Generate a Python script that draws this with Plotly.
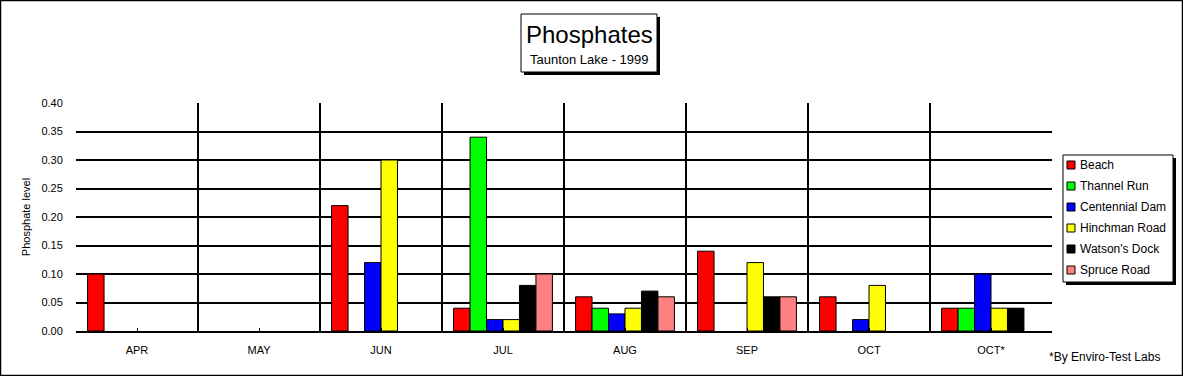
import plotly.graph_objects as go

months = ["APR", "MAY", "JUN", "JUL", "AUG", "SEP", "OCT", "OCT*"]
series_names = ["Beach", "Thannel Run", "Centennial Dam", "Hinchman Road", "Watson's Dock", "Spruce Road"]
colors = ["#ff0000", "#00ff00", "#0000ff", "#ffff00", "#000000", "#ff8080"]

beach = [0.10, None, 0.22, 0.04, 0.06, 0.14, 0.06, 0.04]
thannel = [None, None, None, 0.34, 0.04, None, None, 0.04]
centennial = [None, None, 0.12, 0.02, 0.03, None, 0.02, 0.10]
hinchman = [None, None, 0.30, 0.02, 0.04, 0.12, 0.08, 0.04]
watson = [None, None, None, 0.08, 0.07, 0.06, None, 0.04]
spruce = [None, None, None, 0.10, 0.06, 0.06, None, None]
all_series = [beach, thannel, centennial, hinchman, watson, spruce]

y_ticks = [0.0, 0.05, 0.10, 0.15, 0.20, 0.25, 0.30, 0.35, 0.40]

W, H = 1183, 376
L, R, T, B = 76, 131, 103, 45
PW, PH = W - L - R, H - T - B

def px(x):
    return (x - L) / PW

def py(y):
    return (H - B - y) / PH

FONT = "Liberation Sans, Arial, sans-serif"

fig = go.Figure()
for name, vals, c in zip(series_names, all_series, colors):
    fig.add_trace(go.Bar(x=months, y=vals, name=name, showlegend=False,
                         marker=dict(color=c, line=dict(color="black", width=1))))

# invisible trace for centre tick marks
fig.add_trace(go.Scatter(x=months, y=[0] * len(months), xaxis="x2", mode="markers",
                         marker=dict(opacity=0), showlegend=False, hoverinfo="skip"))

fig.update_layout(
    width=W, height=H,
    margin=dict(l=L, r=R, t=T, b=B),
    paper_bgcolor="white", plot_bgcolor="white",
    barmode="group", bargap=0.19, bargroupgap=0,
    font=dict(family=FONT, size=11, color="black"),
    xaxis=dict(type="category", categoryorder="array", categoryarray=months,
               tickson="boundaries", showgrid=True, gridcolor="black", gridwidth=2,
               ticks="", ticklabelstandoff=8,
               showline=True, linecolor="black", linewidth=2,
               tickfont=dict(size=11), range=[-0.5, 7.5]),
    xaxis2=dict(type="category", categoryorder="array", categoryarray=months,
                overlaying="x", matches="x", showticklabels=False, ticks="inside",
                ticklen=3, tickwidth=1, tickcolor="black", showgrid=False, side="bottom",
                range=[-0.5, 7.5]),
    yaxis=dict(range=[0, 0.4], tickvals=y_ticks, tickformat=".2f",
               showgrid=True, gridcolor="black", gridwidth=2, zeroline=False,
               showline=False, ticks="outside", ticklen=10, tickcolor="rgba(0,0,0,0)",
               tickfont=dict(size=11),
               title=dict(text="Phosphate level", font=dict(size=11), standoff=8)),
    showlegend=False,
)

shapes = []
annotations = []
# outer frame
shapes.append(dict(type="rect", xref="paper", yref="paper", x0=px(0.5), x1=px(W - 0.5), y0=py(H - 0.5), y1=py(0.5),
                   line=dict(color="black", width=1.5), fillcolor="rgba(0,0,0,0)", layer="above"))
# title box shadow and box
shapes.append(dict(type="rect", xref="paper", yref="paper", x0=px(524), x1=px(660), y0=py(75), y1=py(17),
                   line=dict(width=0), fillcolor="black", layer="above"))
shapes.append(dict(type="rect", xref="paper", yref="paper", x0=px(521), x1=px(657), y0=py(72), y1=py(14),
                   line=dict(color="black", width=1), fillcolor="white", layer="above"))

# legend box (manual, built from series names/colours)
LX0, LY0, LX1, LY1 = 1063, 155, 1173, 282
shapes.append(dict(type="rect", xref="paper", yref="paper", x0=px(LX0 + 3), x1=px(LX1 + 3), y0=py(LY1 + 3), y1=py(LY0 + 3),
                   line=dict(width=0), fillcolor="black", layer="above"))
shapes.append(dict(type="rect", xref="paper", yref="paper", x0=px(LX0), x1=px(LX1), y0=py(LY1), y1=py(LY0),
                   line=dict(color="black", width=1), fillcolor="white", layer="above"))
for i, (name, c) in enumerate(zip(series_names, colors)):
    cy = 165 + 21 * i
    shapes.append(dict(type="rect", xref="paper", yref="paper", x0=px(1067), x1=px(1075), y0=py(cy + 4), y1=py(cy - 4),
                       line=dict(color="black", width=1), fillcolor=c, layer="above"))
    annotations.append(dict(text=name, xref="paper", yref="paper", x=px(1078), y=py(cy), showarrow=False,
                            xanchor="left", yanchor="middle", font=dict(size=12, family=FONT)))

annotations.append(dict(text="Phosphates", xref="paper", yref="paper", x=px(589), y=py(34),
                        showarrow=False, font=dict(size=24, family=FONT), xanchor="center", yanchor="middle"))
annotations.append(dict(text="Taunton Lake - 1999", xref="paper", yref="paper", x=px(589), y=py(59),
                        showarrow=False, font=dict(size=13, family=FONT), xanchor="center", yanchor="middle"))
annotations.append(dict(text="*By Enviro-Test Labs", xref="paper", yref="paper", x=px(1162), y=py(357),
                        showarrow=False, font=dict(size=12, family=FONT), xanchor="right", yanchor="middle"))
fig.update_layout(shapes=shapes, annotations=annotations)

fig.write_html("out.html", config={"responsive": False, "displayModeBar": False},
               post_script="document.body.style.margin='0';document.body.style.overflow='hidden';")
